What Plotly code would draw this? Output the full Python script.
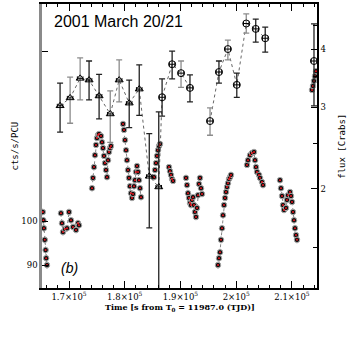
import plotly.graph_objects as go

# --- flux points (right axis, Crabs) ---
flux_t = [168400, 170200, 172000, 173600, 175400, 177400, 179000, 180800, 182600, 184400, 186100,
          186700, 188500, 190100, 191700, 195300, 196900, 198500, 200100, 201800, 203500, 205200, 213950]
flux = [3.02, 3.14, 3.46, 3.43, 3.17, 2.90, 3.43, 3.06, 3.28, 2.13, 2.02,
        3.15, 3.71, 3.55, 3.30, 2.80, 3.57, 4.00, 3.35, 4.54, 4.42, 4.22, 3.77]
flux_hi = [3.38, 3.48, 3.83, 3.77, 3.53, 3.25, 3.79, 3.43, 3.70, 2.63, 2.93,
           3.45, 3.96, 3.77, 3.52, 2.99, 3.77, 4.18, 3.55, 4.76, 4.64, 4.46, 4.53]
flux_lo = [2.65, 2.77, 3.11, 3.11, 2.83, 2.52, 3.08, 2.71, 2.88, 1.65, 0.90,
           2.87, 3.45, 3.31, 3.08, 2.61, 3.38, 3.79, 3.15, 4.33, 4.14, 3.94, 3.02]
flux_sym = ["tri"] * 11 + ["circ"] * 12
flux_grey = [0, 1, 1, 0, 0, 1, 1, 0, 0, 0, 0,
             0, 0, 1, 0, 1, 0, 1, 0, 1, 0, 0, 0]
flux_break_after = [14, 21]
flux_terr = 500

# --- light curve (left axis, cts/s/PCU) ---
lc_seg = [0]*7 + [1]*11 + [2]*19 + [3]*19 + [4]*7 + [5]*5 + [6]*17 + [7]*14 + [8]*12 + [9]*16 + [10]*5
lc_t = [165300, 165400, 165500, 165650, 165800, 165900, 166050,
        168560, 168740, 168920, 169280, 169640, 170000, 170360, 170720, 171260, 171610, 171790,
        174130, 174300, 174480, 174660, 174840, 175020, 175200, 175380, 175740, 175920, 176100, 176280,
        176460, 176640, 176820, 177000, 177180, 177360, 177530,
        179690, 179870, 180050, 180230, 180400, 180580, 180760, 180940, 181120, 181300, 181480,
        181660, 181840, 182020, 182200, 182380, 182560, 182740, 182920,
        185250, 185430, 185610, 185790, 185970, 186150, 186330,
        187940, 188120, 188300, 188480, 188660,
        190990, 191170, 191350, 191530, 191710, 191890, 192070, 192250, 192420, 192600, 192780,
        192960, 193140, 193320, 193500, 193680, 193860,
        196730, 196910, 197090, 197270, 197450, 197630, 197810, 197990, 198170, 198350, 198520,
        198700, 198880, 199060,
        201930, 202110, 202470, 202830, 203190, 203370, 203550, 203730, 204090, 204270, 204620, 204800,
        207850, 208030, 208210, 208390, 208570, 208930, 209110, 209290, 209650, 209830, 210010,
        210190, 210370, 210540, 210720, 210900,
        213590, 213770, 213950, 214130, 214310]
lc_rate = [102.2, 100.2, 98.3, 95.6, 93.3, 91.5, 90.0,
           101.9, 99.5, 97.4, 98.1, 98.3, 102.2, 100.2, 98.6, 97.9, 99.5, 99.0,
           108.2, 110.9, 113.8, 117.1, 120.0, 122.0, 122.9, 123.2, 122.6, 120.8, 119.1, 116.9,
           114.9, 113.0, 111.1, 115.7, 118.0, 119.1, 119.7,
           126.2, 124.4, 121.4, 118.5, 115.7, 113.0, 110.9, 108.7, 106.9, 105.7, 106.7,
           108.7, 110.3, 112.5, 114.1, 112.5, 110.3, 108.2, 105.9,
           111.1, 113.0, 114.9, 116.9, 118.5, 119.7, 120.3,
           113.8, 112.7, 111.7, 110.6, 110.1,
           110.9, 109.0, 106.9, 105.7, 104.4, 103.9, 105.2, 105.9, 103.9, 102.2, 101.0,
           103.2, 106.4, 109.3, 110.9, 108.2, 106.7,
           90.0, 91.5, 92.8, 95.6, 98.3, 101.4, 103.9, 105.7, 107.2, 108.5, 109.5,
           110.6, 111.1, 111.7,
           114.4, 115.7, 117.1, 117.7, 118.0, 115.7, 113.8, 112.5, 111.7, 110.9, 109.8, 109.0,
           110.3, 108.2, 106.2, 103.9, 102.7, 103.2, 105.2, 106.4, 107.2, 106.2, 104.7,
           102.2, 100.2, 98.3, 96.7, 95.6,
           136.9, 138.2, 139.9, 141.5, 143.2]
lc_err = 0.8

x_ticks = [170000, 180000, 190000, 200000, 210000]
x_ticktext = ["1.7×10<sup>5</sup>", "1.8×10<sup>5</sup>", "1.9×10<sup>5</sup>", "2×10<sup>5</sup>", "2.1×10<sup>5</sup>"]
left_ticks = [90, 100]
left_minor = [150]
right_ticks = [2, 3, 4, 5]
right_minor = [1.5, 2.5, 3.5, 4.5]

tick_font = dict(family="DejaVu Serif", size=8.5, color="black")

fig = go.Figure()

# light curve with gaps between segments
xs, ys = [], []
for i, (t, r) in enumerate(zip(lc_t, lc_rate)):
    if i > 0 and lc_seg[i] != lc_seg[i - 1]:
        xs.append(None)
        ys.append(None)
    xs.append(t)
    ys.append(r)

fig.add_trace(go.Scatter(
    x=xs, y=ys, mode="lines+markers",
    line=dict(color="#666666", width=0.8, dash="dot"),
    marker=dict(size=5.5, color="#111111", line=dict(color="#a8a8a8", width=1)),
    error_y=dict(type="constant", value=lc_err, color="#999999", thickness=1, width=0),
    showlegend=False))
fig.add_trace(go.Scatter(
    x=lc_t, y=lc_rate, mode="markers",
    marker=dict(size=2, color="#e8141c"), showlegend=False))

# dotted line through flux points
fx, fy = [], []
for i, (t, f) in enumerate(zip(flux_t, flux)):
    fx.append(t)
    fy.append(f)
    if i in flux_break_after:
        fx.append(None)
        fy.append(None)
fig.add_trace(go.Scatter(x=fx, y=fy, mode="lines", yaxis="y2",
                         line=dict(color="#555555", width=0.9, dash="dot"), showlegend=False))

for grey in (0, 1):
    for sym in ("tri", "circ"):
        idx = [i for i in range(len(flux)) if flux_grey[i] == grey and flux_sym[i] == sym]
        if not idx:
            continue
        col = "#8c8c8c" if grey else "#222222"
        fig.add_trace(go.Scatter(
            x=[flux_t[i] for i in idx], y=[flux[i] for i in idx], yaxis="y2", mode="markers",
            marker=dict(symbol="triangle-up-open" if sym == "tri" else "circle-open",
                        size=7, color="black", line=dict(width=1)),
            error_y=dict(type="data", symmetric=False,
                         array=[flux_hi[i] - flux[i] for i in idx],
                         arrayminus=[flux[i] - flux_lo[i] for i in idx],
                         color=col, thickness=1.3, width=3),
            error_x=dict(type="constant", value=flux_terr, color="black", thickness=1, width=2),
            showlegend=False))

fig.update_layout(
    width=349, height=337,
    margin=dict(l=42, r=32, t=4, b=49),
    plot_bgcolor="white", paper_bgcolor="white",
    xaxis=dict(range=[165156, 214490], showgrid=False, zeroline=False, automargin=False,
               showline=True, linecolor="black", linewidth=1.5, mirror="ticks",
               ticks="inside", ticklen=7, tickcolor="black",
               tickvals=x_ticks, ticktext=x_ticktext, tickfont=tick_font,
               minor=dict(ticks="inside", ticklen=3, dtick=2000, tick0=0, tickcolor="black")),
    yaxis=dict(type="log", range=[1.9304, 2.2258], showgrid=False, zeroline=False, automargin=False,
               showline=True, linecolor="#8a8a8a", linewidth=2.5,
               ticks="inside", ticklen=6, tickcolor="black",
               tickvals=left_ticks, ticktext=[str(v) for v in left_ticks], tickfont=tick_font,
               minor=dict(ticks="inside", ticklen=6, tickvals=left_minor, tickcolor="black")),
    yaxis2=dict(type="log", range=[0.088, 0.699], overlaying="y", side="right", anchor="x",
                automargin=False,
                showgrid=False, zeroline=False, showline=True, linecolor="black", linewidth=1.5,
                ticks="inside", ticklen=6, tickcolor="black",
                tickvals=right_ticks, ticktext=[str(v) for v in right_ticks], tickfont=tick_font,
                minor=dict(ticks="inside", ticklen=4, tickvals=right_minor, tickcolor="black")),
    annotations=[
        dict(text="2001 March 20/21", x=0.035, y=0.975, xref="paper", yref="paper",
             xanchor="left", yanchor="top", showarrow=False,
             font=dict(family="Liberation Sans", size=16, color="black")),
        dict(text="<i>(b)</i>", x=0.06, y=0.035, xref="paper", yref="paper",
             xanchor="left", yanchor="bottom", showarrow=False,
             font=dict(family="Liberation Sans", size=14, color="black")),
        dict(text="<b>Time [s from T<sub>0</sub> = 11987.0 (TJD)]</b>", x=0.5, y=-0.067,
             xref="paper", yref="paper", xanchor="center", yanchor="middle", showarrow=False,
             font=dict(family="DejaVu Serif", size=8, color="black")),
        dict(text="cts/s/PCU", x=-0.1, y=0.5, xref="paper", yref="paper", textangle=-90,
             xanchor="center", yanchor="middle", showarrow=False,
             font=dict(family="DejaVu Sans Mono", size=9, color="black")),
        dict(text="flux [Crabs]", x=1.09, y=0.5, xref="paper", yref="paper", textangle=-90,
             xanchor="center", yanchor="middle", showarrow=False,
             font=dict(family="DejaVu Sans Mono", size=9, color="black")),
    ],
)

fig.write_html("out.html", config={"displayModeBar": False},
               post_script="document.body.style.margin='0';")
